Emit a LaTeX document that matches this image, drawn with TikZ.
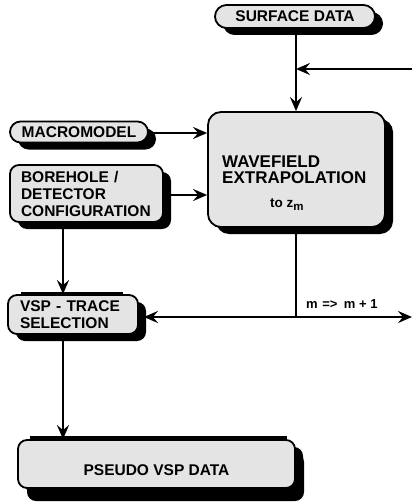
\documentclass[tikz,border=0pt]{standalone}
\usepackage{fontspec}
\setmainfont{Liberation Sans}
\usetikzlibrary{arrows.meta,shadows}
\definecolor{boxgray}{HTML}{E4E4E4}
\begin{document}
\begin{tikzpicture}[x=1pt,y=-1pt,
  box/.style={draw=black, line width=1.8pt, fill=boxgray, inner sep=0pt,
    font=\bfseries\fontsize{15.5}{17}\selectfont,
    drop shadow={shadow xshift=8pt, shadow yshift=-7pt, fill=black, opacity=1}},
  lbl/.style={inner sep=0pt, font=\bfseries\fontsize{17}{17}\selectfont},
  wire/.style={line width=2.4pt},
  conn/.style={wire, -{Stealth[length=14pt,width=12pt,inset=5pt]}}
]
\useasboundingbox (0,0) rectangle (412,503);

% boxes
\node[box, rounded corners=11.5pt, minimum width=160pt, minimum height=23pt] (sd) at (295,16.5) {SURFACE DATA};
\node[box, rounded corners=10.5pt, minimum width=138pt, minimum height=21pt] (mm) at (79,132) {MACROMODEL};
\node[box, rounded corners=9pt, minimum width=153pt, minimum height=57pt, text width=131pt, inner xsep=11pt, align=left] (bh) at (86.5,193.5) {BOREHOLE /\\DETECTOR\\CONFIGURATION};
\node[box, rounded corners=13pt, minimum width=177pt, minimum height=115pt] (wf) at (296.5,169.5) {};
\node[box, rounded corners=9pt, minimum width=130pt, minimum height=39pt, text width=106pt, inner xsep=12pt, align=left] (vsp) at (73,314.5) {VSP - TRACE\\SELECTION};
\node[box, rounded corners=9pt, minimum width=277pt, minimum height=48pt, text height=22pt, text depth=0pt,
  drop shadow={shadow xshift=9pt, shadow yshift=-13pt, fill=black, opacity=1}] (pvd) at (156.5,464) {PSEUDO VSP DATA};

% text of the extrapolation box
\node[lbl, anchor=base west] (wft1) at (222,167) {WAVEFIELD};
\node[lbl, anchor=base west] (wft2) at (222,183.5) {EXTRAPOLATION};
\node[inner sep=0pt, anchor=base west, font=\bfseries\fontsize{13.5}{13.5}\selectfont] (wft3) at (270,207) {to z\raisebox{-3pt}{\fontsize{11.5}{11.5}\selectfont m}};

% coordinates
\coordinate (colL) at (63,0);
\coordinate (fbR) at (412,69);
\coordinate (fbJ) at (sd.south |- fbR);
\coordinate (jn) at (296,317);
\coordinate (rEnd) at (412,317);

% connectors
\draw[conn] (sd.south -| jn) -- (jn |- wf.north);
\draw[conn] (fbR) -- (fbJ -| jn);
\draw[conn] (mm.east |- 0,133) -- (wf.west |- 0,133);
\draw[conn] (bh.east |- 0,195) -- (wf.west |- 0,195);
\draw[conn] (colL |- bh.south) -- (colL |- vsp.north);
\draw[wire] (jn |- wf.south) -- (jn);
\draw[conn] (jn) -- ([xshift=5pt]vsp.east |- jn);
\draw[conn] (jn) -- (rEnd);
\draw[conn] (colL |- vsp.south) -- (colL |- pvd.north);

\node[inner sep=0pt, anchor=base west, font=\bfseries\fontsize{13}{13}\selectfont] (mlab) at (306,308) {m\hspace{0.35em}=>\hspace{0.5em}m + 1};

% thick bars over the two lower boxes
\draw[line width=2.5pt] (21,293) -- (123,293);
\draw[line width=2.5pt] (30,437.5) -- (287,437.5);
\end{tikzpicture}
\end{document}
